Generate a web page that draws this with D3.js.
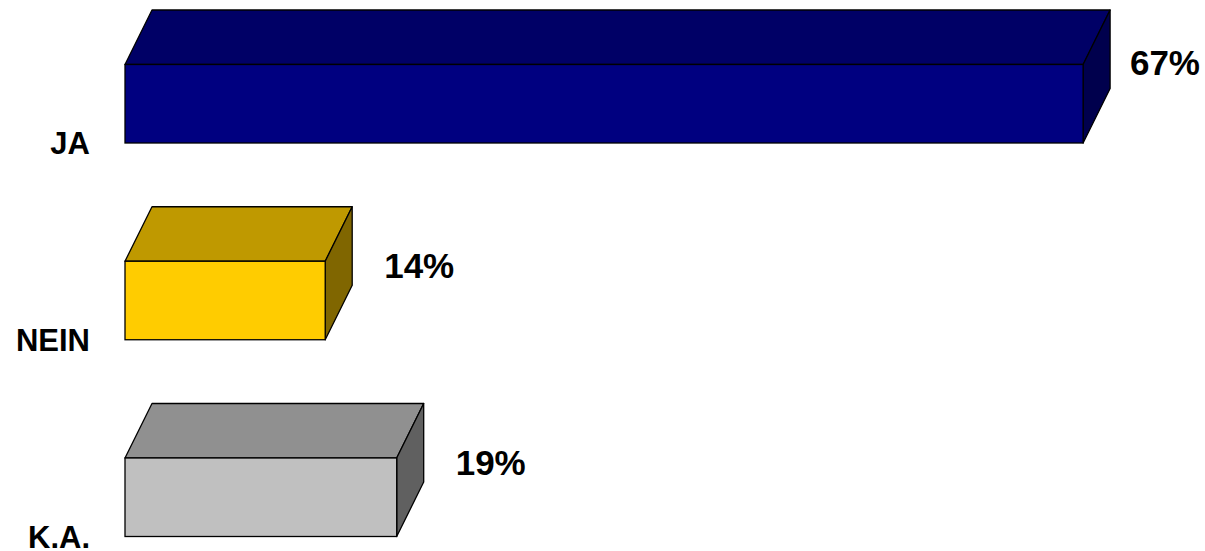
<!DOCTYPE html>
<html>
<head>
<meta charset="utf-8">
<script src="https://cdn.jsdelivr.net/npm/d3@7"></script>
<style>
  html, body { margin: 0; padding: 0; background: #ffffff; }
  svg { display: block; }
  text { font-family: "Liberation Sans", Arial, sans-serif; font-weight: bold; fill: #000; }
</style>
</head>
<body>
<script>
// Survey answers and their shares in percent
const categories = ["JA", "NEIN", "K.A."];
const values = [67, 14, 19];
const valueLabels = ["67%", "14%", "19%"];

// Face colours per answer: front, top, side
const frontColors = ["#000080", "#FFCC00", "#C0C0C0"];
const topColors = ["#000066", "#BF9900", "#909090"];
const sideColors = ["#00004D", "#806600", "#606060"];

const width = 1205, height = 551;
const depthX = 27, depthY = 54.5;
const rightLimit = 1200;

const svg = d3.select("body").append("svg")
  .attr("width", width)
  .attr("height", height);

const x = d3.scaleLinear().domain([0, 70]).range([125, 1126]);
const y = d3.scaleBand().domain(categories).range([64.5, 536.5]).paddingInner(0.601).paddingOuter(0);

const data = categories.map((c, i) => ({
  cat: c, value: values[i], label: valueLabels[i],
  front: frontColors[i], top: topColors[i], side: sideColors[i]
}));

const bars = svg.selectAll("g.bar").data(data).join("g").attr("class", "bar");

// top face
bars.append("path")
  .attr("d", d => {
    const x0 = x(0), x1 = x(d.value), y0 = y(d.cat);
    return `M${x0},${y0}L${x0 + depthX},${y0 - depthY}L${x1 + depthX},${y0 - depthY}L${x1},${y0}Z`;
  })
  .attr("fill", d => d.top)
  .attr("stroke", "#000").attr("stroke-width", 1.3).attr("stroke-linejoin", "round");

// side face
bars.append("path")
  .attr("d", d => {
    const x1 = x(d.value), y0 = y(d.cat), y1 = y0 + y.bandwidth();
    return `M${x1},${y0}L${x1 + depthX},${y0 - depthY}L${x1 + depthX},${y1 - depthY}L${x1},${y1}Z`;
  })
  .attr("fill", d => d.side)
  .attr("stroke", "#000").attr("stroke-width", 1.3).attr("stroke-linejoin", "round");

// front face
bars.append("rect")
  .attr("x", x(0))
  .attr("y", d => y(d.cat))
  .attr("width", d => x(d.value) - x(0))
  .attr("height", y.bandwidth())
  .attr("fill", d => d.front)
  .attr("stroke", "#000").attr("stroke-width", 1.3);

// value labels beside each bar, kept inside the right edge
bars.append("text")
  .attr("y", d => y(d.cat) + 17)
  .attr("font-size", 35)
  .text(d => d.label)
  .each(function (d) {
    const w = this.getComputedTextLength();
    const wanted = x(d.value) + depthX + 32;
    const fits = wanted + w <= rightLimit;
    d3.select(this)
      .attr("x", fits ? wanted : rightLimit - w)
      .attr("dy", fits ? 0 : -7);
  });

// category labels
svg.selectAll("text.cat").data(data).join("text")
  .attr("class", "cat")
  .attr("x", 90)
  .attr("y", d => y(d.cat) + y.bandwidth() + 11)
  .attr("text-anchor", "end")
  .attr("font-size", 31)
  .text(d => d.cat);
</script>
</body>
</html>
